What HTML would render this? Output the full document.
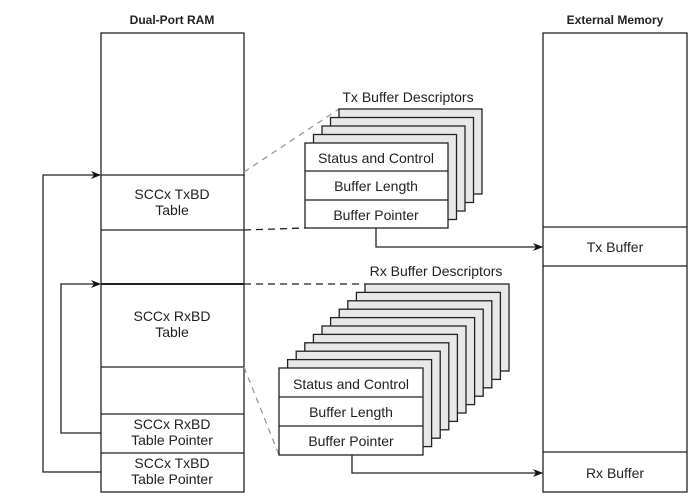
<!DOCTYPE html>
<html><head><meta charset="utf-8"><style>
html,body{margin:0;padding:0;background:#fff;width:700px;height:502px;overflow:hidden}
text{font-family:"Liberation Sans",Arial,sans-serif;fill:#222}
</style></head><body>
<svg width="700" height="502" viewBox="0 0 700 502" xmlns="http://www.w3.org/2000/svg">
<defs><marker id="a" markerWidth="10" markerHeight="8" refX="9" refY="4" orient="auto" markerUnits="userSpaceOnUse"><path d="M0,0 L10,4 L0,8 L3,4 z" fill="#111"/></marker></defs>
<g stroke="#222" stroke-width="1.3" fill="none">
<rect x="101" y="33" width="143" height="459" fill="#fff"/>
<line x1="101" y1="175" x2="244" y2="175"/>
<line x1="101" y1="230" x2="244" y2="230"/>
<line x1="101" y1="284" x2="244" y2="284" stroke-width="2"/>
<line x1="101" y1="367" x2="244" y2="367"/>
<line x1="101" y1="414" x2="244" y2="414"/>
<line x1="101" y1="453" x2="244" y2="453"/>
<rect x="543" y="33" width="144" height="459" fill="#fff"/>
<line x1="543" y1="227" x2="687" y2="227"/>
<line x1="543" y1="266" x2="687" y2="266"/>
<line x1="543" y1="452" x2="687" y2="452"/>
<polyline points="101,472 43,472 43,175 100,175" marker-end="url(#a)"/>
<polyline points="101,433 61,433 61,284 100,284" marker-end="url(#a)"/>
<line x1="244" y1="172" x2="339" y2="109" stroke="#999" stroke-dasharray="6,5"/>
<line x1="244" y1="230" x2="305" y2="228" stroke-dasharray="7,5"/>
<line x1="244" y1="284" x2="365" y2="284" stroke-dasharray="7,5"/>
<line x1="244" y1="367" x2="279" y2="455" stroke="#999" stroke-dasharray="6,5"/>
<g fill="#e8e8e8">
<rect x="339" y="109" width="143" height="85"/>
<rect x="330.5" y="117.5" width="143" height="85"/>
<rect x="322" y="126" width="143" height="85"/>
<rect x="313.5" y="134.5" width="143" height="85"/>
</g>
<rect x="305" y="143" width="143" height="85" fill="#fff"/>
<line x1="305" y1="171" x2="448" y2="171"/>
<line x1="305" y1="200" x2="448" y2="200"/>
<g fill="#e8e8e8">
<rect x="365" y="284" width="144" height="87"/>
<rect x="356.4" y="292.4" width="144" height="87"/>
<rect x="347.8" y="300.8" width="144" height="87"/>
<rect x="339.2" y="309.2" width="144" height="87"/>
<rect x="330.6" y="317.6" width="144" height="87"/>
<rect x="322" y="326" width="144" height="87"/>
<rect x="313.4" y="334.4" width="144" height="87"/>
<rect x="304.8" y="342.8" width="144" height="87"/>
<rect x="296.2" y="351.2" width="144" height="87"/>
<rect x="287.6" y="359.6" width="144" height="87"/>
</g>
<rect x="279" y="368" width="144" height="87" fill="#fff"/>
<line x1="279" y1="397" x2="423" y2="397"/>
<line x1="279" y1="426" x2="423" y2="426"/>
<polyline points="376,228 376,247 542,247" marker-end="url(#a)"/>
<polyline points="352,455 352,473 542,473" marker-end="url(#a)"/>
</g>
<g font-size="14" text-anchor="middle">
<text x="172" y="24" font-weight="bold" font-size="12">Dual-Port RAM</text>
<text x="615" y="24" font-weight="bold" font-size="12">External Memory</text>
<text x="172" y="199">SCCx TxBD</text><text x="172" y="215">Table</text>
<text x="172" y="321">SCCx RxBD</text><text x="172" y="337">Table</text>
<text x="172" y="429">SCCx RxBD</text><text x="172" y="445">Table Pointer</text>
<text x="172" y="468">SCCx TxBD</text><text x="172" y="484">Table Pointer</text>
<text x="408" y="102">Tx Buffer Descriptors</text>
<text x="376" y="163">Status and Control</text>
<text x="376" y="191">Buffer Length</text>
<text x="376" y="220">Buffer Pointer</text>
<text x="436" y="276">Rx Buffer Descriptors</text>
<text x="351" y="389">Status and Control</text>
<text x="351" y="417">Buffer Length</text>
<text x="351" y="446">Buffer Pointer</text>
<text x="615" y="252">Tx Buffer</text>
<text x="615" y="478">Rx Buffer</text>
</g>
</svg>
</body></html>
